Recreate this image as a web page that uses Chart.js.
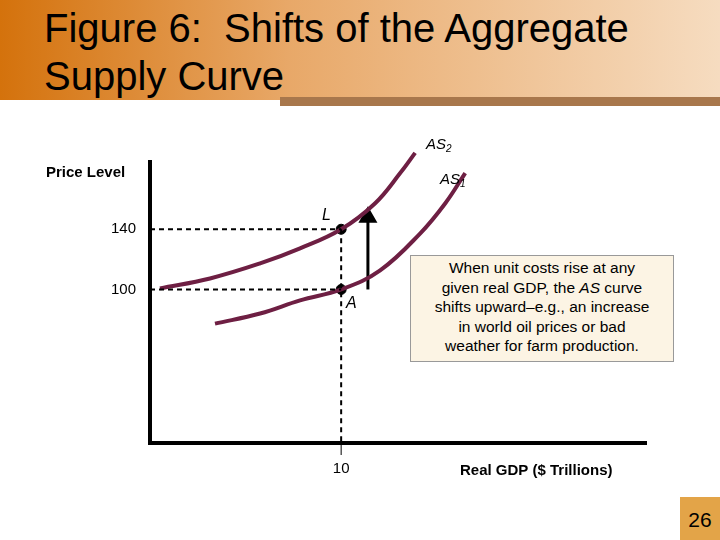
<!DOCTYPE html>
<html>
<head>
<meta charset="utf-8">
<script src="https://cdn.jsdelivr.net/npm/chart.js@4"></script>
<style>
  body { margin: 0; width: 720px; height: 540px; position: relative; background: #fff; overflow: hidden; font-family: "Liberation Sans", Arial, sans-serif; }
  #header { position: absolute; left: 0; top: 0; width: 720px; height: 100px; background: linear-gradient(to right, #d4720c 0%, #e8a868 40%, #f6dcc0 100%); }
  #strip { position: absolute; left: 280px; top: 97px; width: 440px; height: 9px; background: #a8774c; }
  #title { position: absolute; left: 44px; top: 4px; font-size: 40px; line-height: 48px; color: #000; }
  #note { position: absolute; left: 410px; top: 255px; width: 260px; height: 103px; padding: 2px 1px 0 1px; background: #fcf4e4; border: 1px solid #999; font-size: 15.5px; line-height: 19.5px; text-align: center; }
  #page { position: absolute; left: 680px; top: 497px; width: 40px; height: 43px; background: #e3a448; font-size: 21px; text-align: center; line-height: 46px; }
  #c { position: absolute; left: 0; top: 0; }
</style>
</head>
<body>
<div id="header"></div>
<div id="strip"></div>
<div id="title">Figure 6:&nbsp; Shifts of the Aggregate<br>Supply Curve</div>
<canvas id="c" width="720" height="540"></canvas>
<div id="note">When unit costs rise at any<br>given real GDP, the <i>AS</i> curve<br>shifts upward–e.g., an increase<br>in world oil prices or bad<br>weather for farm production.</div>
<div id="page">26</div>
<script>
const yTicks = [100, 140];
const xTicks = [10];
const as1 = [
  {x: 3.4, y: 77.3}, {x: 5.76, y: 84}, {x: 7.85, y: 92.7}, {x: 10, y: 100},
  {x: 12.04, y: 112.7}, {x: 14.14, y: 137.3}, {x: 15.45, y: 157.3}, {x: 16.49, y: 177.3}
];
const as2 = [
  {x: 0.52, y: 100.7}, {x: 3.14, y: 107.3}, {x: 5.76, y: 117.3}, {x: 7.85, y: 127.3},
  {x: 10, y: 140}, {x: 11.78, y: 157.3}, {x: 13.09, y: 177.3}, {x: 13.87, y: 190.7}
];
const pointsLA = [{x: 10, y: 140}, {x: 10, y: 100}];
const arrow = [{x: 11.4, y: 100}, {x: 11.4, y: 148}];
const X_MIN = 0, X_MAX = 26, Y_MIN = -2, Y_MAX = 186;

const maroon = '#6e1f43';
const dashed = (data) => ({ data, borderColor: '#000', borderWidth: 2, borderDash: [5, 4], pointRadius: 0, showLine: true });

const overlay = {
  id: 'overlay',
  afterDraw(chart) {
    const { ctx, chartArea: a, scales: { x, y } } = chart;
    ctx.save();
    ctx.strokeStyle = '#000';
    ctx.lineWidth = 4;
    ctx.beginPath();
    ctx.moveTo(a.left, a.top);
    ctx.lineTo(a.left, a.bottom);
    ctx.lineTo(a.right, a.bottom);
    ctx.stroke();
    ctx.lineWidth = 1;
    ctx.fillStyle = '#000';
    ctx.font = '15px "Liberation Sans", Arial';
    ctx.textAlign = 'right';
    ctx.textBaseline = 'middle';
    yTicks.forEach(v => ctx.fillText(String(v), a.left - 14, y.getPixelForValue(v)));
    ctx.textAlign = 'center';
    ctx.textBaseline = 'top';
    xTicks.forEach(v => {
      const px = x.getPixelForValue(v);
      ctx.beginPath(); ctx.moveTo(px, a.bottom); ctx.lineTo(px, a.bottom + 12); ctx.stroke();
      ctx.fillText(String(v), px, a.bottom + 18);
    });
    ctx.font = 'bold 15px "Liberation Sans", Arial';
    ctx.textAlign = 'left';
    ctx.fillText('Price Level', 46, 165);
    ctx.fillText('Real GDP ($ Trillions)', 460, 463);
    const sub = (t, s, px, py) => {
      ctx.font = 'italic 15px "Liberation Sans", Arial';
      ctx.fillText(t, px, py);
      const w = ctx.measureText(t).width;
      ctx.font = 'italic 10px "Liberation Sans", Arial';
      ctx.fillText(s, px + w, py + 7);
    };
    sub('AS', '2', 426, 137);
    sub('AS', '1', 440, 172);
    ctx.font = 'italic 16px "Liberation Sans", Arial';
    ctx.fillText('L', 322, 208);
    ctx.fillText('A', 346, 296);
    ctx.restore();
  }
};

new Chart(document.getElementById('c'), {
  type: 'scatter',
  data: {
    datasets: [
      dashed([{x: X_MIN, y: 140}, {x: 10, y: 140}]),
      dashed([{x: X_MIN, y: 100}, {x: 10, y: 100}]),
      dashed([{x: 10, y: 140}, {x: 10, y: Y_MIN}]),
      { data: as1, borderColor: maroon, borderWidth: 4, pointRadius: 0, showLine: true, tension: 0.4 },
      { data: as2, borderColor: maroon, borderWidth: 4, pointRadius: 0, showLine: true, tension: 0.4 },
      { data: arrow, borderColor: '#000', backgroundColor: '#000', borderWidth: 3, showLine: true,
        pointStyle: 'triangle', pointRadius: [0, 8], pointRotation: 0 },
      { data: pointsLA, backgroundColor: '#000', borderColor: '#000', pointRadius: 5, showLine: false }
    ]
  },
  options: {
    responsive: false,
    animation: false,
    layout: { padding: { left: 150, right: 73, top: 160, bottom: 97 } },
    plugins: { legend: { display: false }, tooltip: { enabled: false } },
    scales: {
      x: { type: 'linear', min: X_MIN, max: X_MAX, display: false },
      y: { type: 'linear', min: Y_MIN, max: Y_MAX, display: false }
    },
    clip: false
  },
  plugins: [overlay]
});
</script>
</body>
</html>
